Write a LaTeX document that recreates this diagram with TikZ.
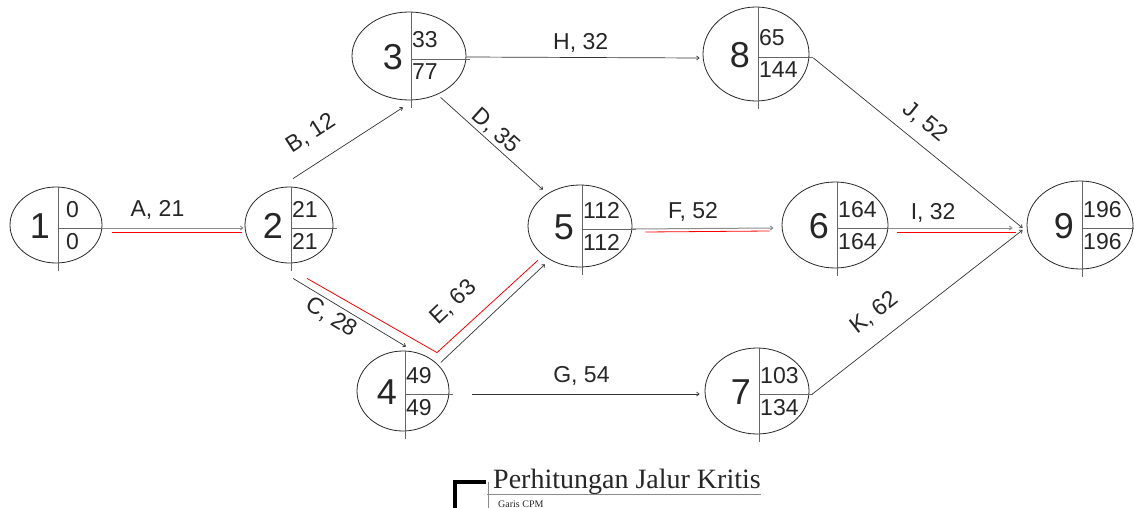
\documentclass[tikz,border=0pt]{standalone}
\usepackage{fontspec}
\setmainfont{Liberation Serif}
\setsansfont{Liberation Sans}
\usetikzlibrary{shapes.geometric,calc,arrows.meta}

\tikzset{
  evt/.style={draw=black!85, ellipse, line width=0.8pt, inner sep=0pt},
  divider/.style={draw=black!60, line width=0.9pt},
  evtnum/.style={font=\sffamily\fontsize{36}{36}\selectfont, text=black!85, inner sep=0pt},
  evtval/.style={font=\sffamily\fontsize{23}{23}\selectfont, text=black!85, inner sep=1pt},
  act/.style={draw=black!80, line width=0.7pt, -{Straight Barb[length=2.5pt,width=4pt]}},
  actg/.style={act, draw=black!45, line width=1pt},
  crit/.style={draw=red, line width=0.8pt},
  lbl/.style={font=\sffamily\fontsize{23}{23}\selectfont, text=black!85, inner sep=1pt}
}

% event node: name, x, y, width, height, number, earliest, latest
\newcommand{\evtnode}[8]{%
  \node[evt, minimum width=#4pt, minimum height=#5pt] (#1) at (#2,#3) {};
  \draw[divider] ($(#1.north)+(2,0)$) -- ($(#1.south)+(2,8)$);
  \draw[divider] ($(#1.center)+(2,3)$) -- ($(#1.east)+(4,3)$);
  \node[evtnum, anchor=east] (#1n) at ($(#1.center)+(-6,1)$) {#6};
  \node[evtval, anchor=base west] (#1t) at ($(#1.center)+(2,-8)$) {#7};
  \node[evtval, anchor=base west] (#1b) at ($(#1.center)+(2,24)$) {#8};
}

\begin{document}
\begin{tikzpicture}[x=1pt, y=-1pt]
    \useasboundingbox (0,0) rectangle (1134,508);

    \evtnode{n1}{56}{225}{92}{76}{1}{\hspace{7pt}0}{\hspace{7pt}0}
    \evtnode{n2}{289}{225}{88}{76}{2}{21}{21}
    \evtnode{n3}{409}{56}{114}{88}{3}{33}{77}
    \evtnode{n4}{403}{391}{92}{80}{4}{49}{49}
    \evtnode{n5}{580}{226}{104}{82}{5}{112}{112}
    \evtnode{n6}{835}{225}{106}{86}{6}{164}{164}
    \evtnode{n7}{757}{391}{104}{86}{7}{103}{134}
    \evtnode{n8}{756}{54}{106}{94}{8}{65}{144}
    \evtnode{n9}{1080}{225}{106}{88}{9}{196}{196}

    % activities
    \draw [actg] ($(n1.east)+(0,3)$) -- ($(n2.west)+(-1,3)$) node [lbl, pos = 0.39, above = 7pt] {A, 21};
    \draw [act] ($(n2.north)+(4,-8)$) -- ($(n3.south)+(-6,7)$) node [lbl, pos = 0.3, above = 17pt, sloped] {B, 12};
    \draw [act] ($(n2.south)+(4,15)$) -- ($(n4.north)+(3,-4)$) node [lbl, pos = 0.4, below = 3pt, sloped] {C, 28};
    \draw [act] ($(n3.south east)+(-9,10)$) -- ($(n5.north west)+(0,-7)$) node [lbl, pos = 0.46, above = 1pt, sloped] {D, 35};
    \draw [act] ($(n4.north east)+(5,0)$) -- ($(n5.south west)+(2,9)$) node [lbl, pos = 0.35, above = 24pt, sloped] {E, 63};
    \draw [actg] ($(n5.east)+(0,3)$) -- ($(n6.west)+(-8,3)$) node [lbl, pos = 0.43, above = 6pt] {F, 52};
    \draw [act] ($(n4.east)+(23,3)$) -- ($(n7.west)+(-5,3)$) node [lbl, pos = 0.48, above = 7pt] {G, 54};
    \draw [act] ($(n3.east)+(0,1)$) -- ($(n8.west)+(-3,4)$) node [lbl, pos = 0.49, above = 4pt] {H, 32};
    \draw [actg] ($(n6.east)+(0,3)$) -- ($(n9.west)+(-14,3)$) node [lbl, pos = 0.36, above = 4pt] {I, 32};
    \draw [act] ($(n8.east)+(4,4)$) -- ($(n9.west)+(-4,3)$) node [lbl, pos = 0.47, above = 10pt, sloped] {J, 52};
    \draw [act] ($(n7.east)+(3,3)$) -- ($(n9.west)+(-4,5)$) node [lbl, pos = 0.37, above = 15pt, sloped] {K, 62};

    % critical path
    \draw [crit] ($(n1.east)+(10,7)$) -- ($(n2.west)+(-3,7)$);
    \draw [crit] ($(n2.south)+(18,15)$) -- ($(n4.north)+(34,2)$) -- ($(n5.south west)+(-5,5)$);
    \draw [crit] ($(n5.east)+(13,6)$) -- ($(n6.west)+(-12,6)$);
    \draw [crit] ($(n6.east)+(9,7)$) -- ($(n9.west)+(-11,7)$);

    % legend
    \node [anchor=base west, inner sep=0pt, font=\fontsize{28}{28}\selectfont, text=black!85] (legtitle) at (493,488) {Perhitungan Jalur Kritis};
    \node [anchor=base west, inner sep=0pt, font=\fontsize{10}{10}\selectfont, text=black!85] (legsub) at (498,507) {Garis CPM};
    \draw [line width=3.5pt] (455,508) -- (455,482) -- (486,482);
    \draw [draw=black!45, line width=1pt] (488,482) -- (488,508);
    \draw [draw=black!45, line width=1pt] (487,494) -- (legtitle.east |- 0,494);
  \end{tikzpicture}
\end{document}
